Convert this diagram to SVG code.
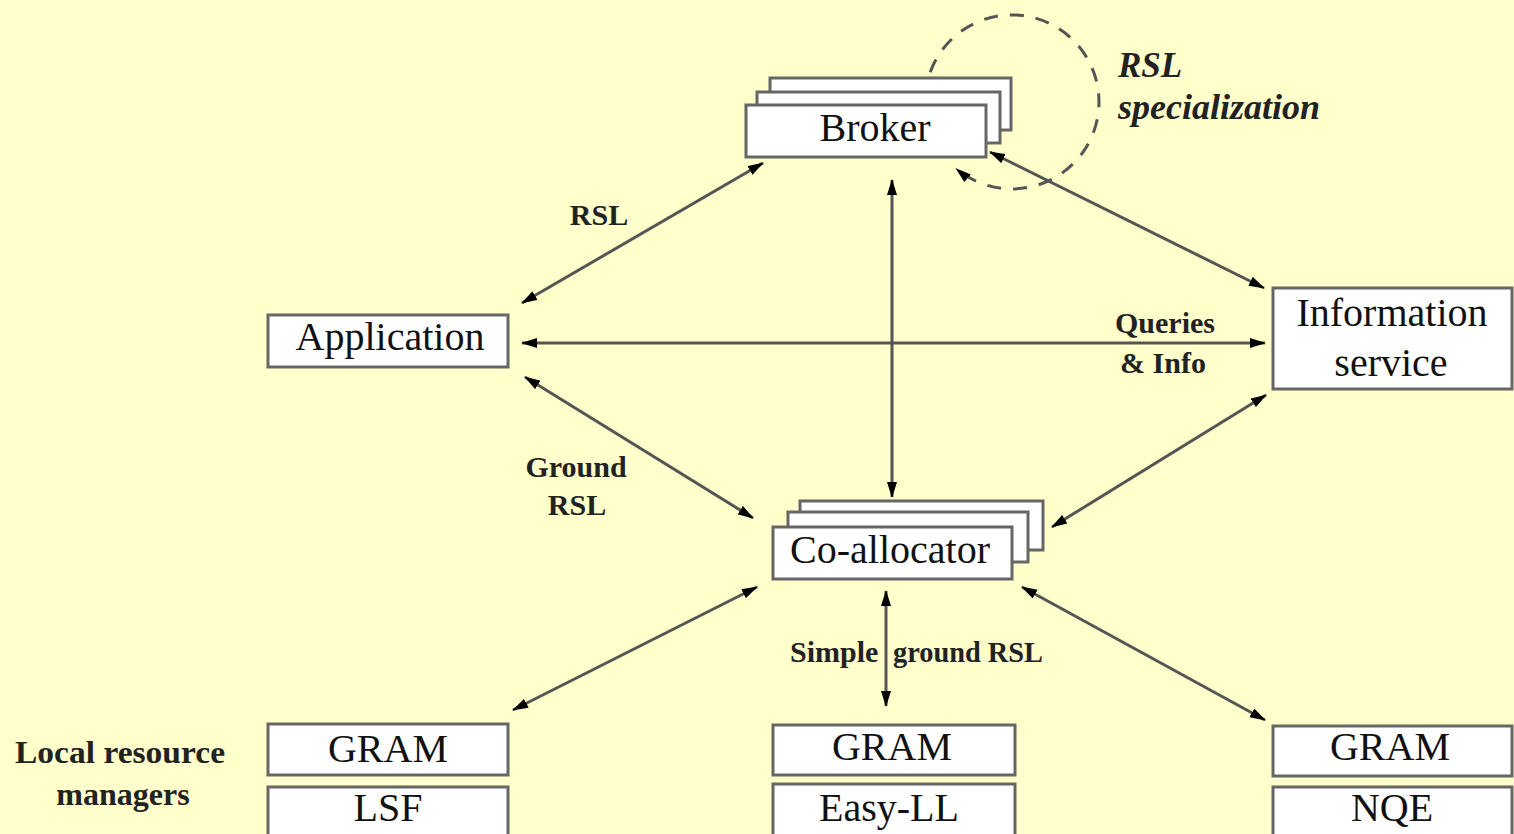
<svg xmlns="http://www.w3.org/2000/svg" width="1514" height="834" viewBox="0 0 1514 834">
<style>
.box{fill:#ffffff;stroke:#666666;stroke-width:3}
.nt{font-family:"Liberation Serif","Times New Roman",serif;font-size:40px;fill:#111111;text-anchor:middle}
.lb{font-family:"Liberation Serif","Times New Roman",serif;font-size:30px;font-weight:bold;fill:#222222;text-anchor:middle}
.conn{stroke:#555555;stroke-width:3;fill:none;marker-start:url(#ah);marker-end:url(#ah)}
</style>
<defs>
<marker id="ah" viewBox="0 0 16 11" markerWidth="16" markerHeight="11" refX="15" refY="5.5" orient="auto-start-reverse" markerUnits="userSpaceOnUse">
<path d="M0,0.5 L16,5.5 L0,10.5 z" fill="#000000"/>
</marker>
<marker id="ah1" viewBox="0 0 16 11" markerWidth="16" markerHeight="11" refX="15" refY="5.5" orient="auto" markerUnits="userSpaceOnUse">
<path d="M0,0.5 L16,5.5 L0,10.5 z" fill="#000000"/>
</marker>
</defs>
<rect x="0" y="0" width="1514" height="834" fill="#ffffcc"/>

<g id="connectors">
<path d="M930.2,72.2 A87,87 0 1 1 956.1,168.6" stroke="#555555" stroke-width="3" fill="none" stroke-dasharray="14 12" marker-end="url(#ah1)"/>
<line class="conn" x1="763" y1="163" x2="522" y2="303"/>
<line class="conn" x1="892" y1="180" x2="892" y2="497"/>
<line class="conn" x1="990" y1="152" x2="1264" y2="288"/>
<line class="conn" x1="522" y1="343" x2="1265" y2="343"/>
<line class="conn" x1="525" y1="377" x2="753" y2="518"/>
<line class="conn" x1="1266" y1="395" x2="1052" y2="527"/>
<line class="conn" x1="757" y1="587" x2="513" y2="710"/>
<line class="conn" x1="886" y1="591" x2="886" y2="706"/>
<line class="conn" x1="1022" y1="587" x2="1265" y2="720"/>
<text class="lb" x="599" y="225">RSL</text>
<text class="lb" x="1165" y="333">Queries</text>
<text class="lb" x="1163" y="373">&amp; Info</text>
<text class="lb" x="576" y="477">Ground</text>
<text class="lb" x="577" y="515">RSL</text>
<text class="lb" y="662" style="text-anchor:start"><tspan x="790">Simple</tspan><tspan x="893" textLength="150" lengthAdjust="spacingAndGlyphs">ground RSL</tspan></text>
<text x="1118" y="77" style="font-family:'Liberation Serif','Times New Roman',serif;font-size:35px;font-weight:bold;font-style:italic;fill:#222222">RSL</text>
<text x="1118" y="119" textLength="202" lengthAdjust="spacingAndGlyphs" style="font-family:'Liberation Serif','Times New Roman',serif;font-size:35px;font-weight:bold;font-style:italic;fill:#222222">specialization</text>
</g>

<g id="broker">
<rect class="box" x="770" y="78" width="241" height="52"/>
<rect class="box" x="757" y="92" width="243" height="51"/>
<rect class="box" x="746" y="105" width="240" height="52"/>
<text class="nt" x="875" y="141">Broker</text>
</g>

<g id="application">
<rect class="box" x="268" y="315" width="240" height="52"/>
<text class="nt" x="390" y="350">Application</text>
</g>

<g id="information-service">
<rect class="box" x="1273" y="288" width="239" height="101"/>
<text class="nt" x="1392" y="326">Information</text>
<text class="nt" x="1391" y="376">service</text>
</g>

<g id="co-allocator">
<rect class="box" x="800" y="501" width="243" height="49"/>
<rect class="box" x="788" y="512" width="240" height="50"/>
<rect class="box" x="773" y="527" width="239" height="52"/>
<text class="nt" x="890" y="563">Co-allocator</text>
</g>

<g id="local-resource-label">
<text x="120" y="763" textLength="210" lengthAdjust="spacingAndGlyphs" style="font-family:'Liberation Serif','Times New Roman',serif;font-size:32px;font-weight:bold;fill:#222222;text-anchor:middle">Local resource</text>
<text x="123" y="805" style="font-family:'Liberation Serif','Times New Roman',serif;font-size:32px;font-weight:bold;fill:#222222;text-anchor:middle">managers</text>
</g>

<g id="gram-left">
<rect class="box" x="268" y="724" width="240" height="51"/>
<text class="nt" x="388" y="762">GRAM</text>
</g>
<g id="lsf">
<rect class="box" x="268" y="787" width="240" height="60"/>
<text class="nt" x="388" y="821">LSF</text>
</g>

<g id="gram-mid">
<rect class="box" x="773" y="725" width="242" height="50"/>
<text class="nt" x="892" y="760">GRAM</text>
</g>
<g id="easy-ll">
<rect class="box" x="773" y="784" width="242" height="60"/>
<text class="nt" x="889" y="821">Easy-LL</text>
</g>

<g id="gram-right">
<rect class="box" x="1273" y="726" width="239" height="50"/>
<text class="nt" x="1390" y="760">GRAM</text>
</g>
<g id="nqe">
<rect class="box" x="1273" y="787" width="239" height="60"/>
<text class="nt" x="1392" y="821">NQE</text>
</g>
</svg>
